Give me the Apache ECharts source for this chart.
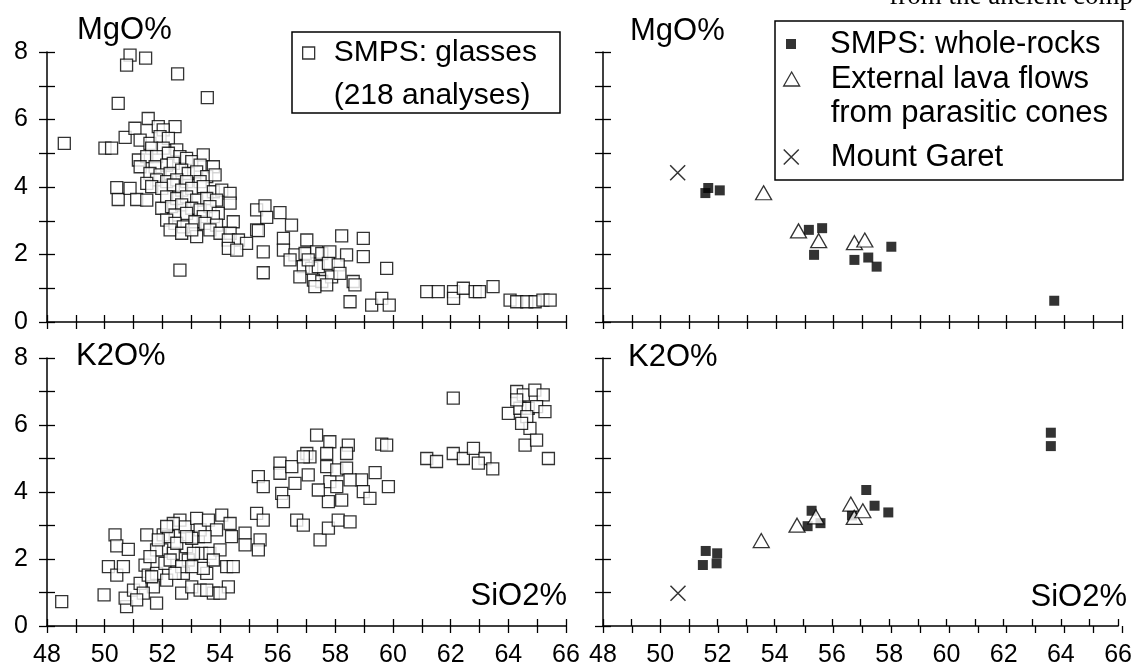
<!DOCTYPE html>
<html>
<head>
<meta charset="utf-8">
<script src="https://cdn.jsdelivr.net/npm/echarts@6/dist/echarts.min.js"></script>
<style>
html,body{margin:0;padding:0;background:#fff;}
#c{width:1135px;height:670px;}
</style>
</head>
<body>
<div id="c"></div>
<script>
// ---------- data ----------
const xTickLabels = ['48','50','52','54','56','58','60','62','64','66'];
const yTickLabels = ['0','2','4','6','8'];
const xMin = 48, xMax = 66, yMin = 0, yMax = 8;

// SMPS glasses, MgO% vs SiO2%
const glassMgO = [
 [48.60,5.29],[50.88,7.91],[50.76,7.61],[51.42,7.82],[52.53,7.35],[53.56,6.65],[50.47,6.48],
 [50.01,5.15],[50.24,5.15],[50.71,5.47],[51.05,5.74],[51.51,6.03],[52.44,5.79],
 [50.42,3.98],[50.47,3.63],[50.88,3.96],[51.11,3.63],[51.46,3.61],[52.61,1.54],[53.19,2.53],
 [51.86,5.79],[52.03,5.69],
 [51.23,5.39],[51.57,5.29],[51.92,5.49],[52.21,5.44],[51.63,5.15],[52.03,5.15],[52.50,5.10],
 [51.17,4.80],[51.46,4.90],[51.80,4.90],[52.21,5.00],[52.61,4.90],[52.84,4.85],[53.02,4.75],[53.42,4.95],
 [51.23,4.60],[51.75,4.60],[52.15,4.65],[52.38,4.70],[53.31,4.65],[53.77,4.60],
 [51.57,4.40],[51.92,4.36],[52.27,4.40],[52.67,4.50],[52.90,4.40],[53.19,4.45],[53.54,4.31],[53.83,4.36],
 [51.80,4.21],[52.15,4.16],[52.50,4.21],[52.84,4.16],[53.31,4.16],[51.46,4.11],
 [51.63,4.01],[51.98,3.96],[52.38,4.06],[52.67,3.91],[53.02,3.96],[53.42,4.01],[53.77,3.86],[54.06,3.91],[54.35,3.81],
 [52.15,3.71],[52.50,3.66],[52.84,3.71],[53.19,3.61],[53.54,3.66],[53.88,3.61],[54.35,3.52],
 [51.98,3.37],[52.32,3.42],[52.67,3.47],[53.02,3.37],[53.31,3.32],[53.65,3.42],[53.94,3.22],
 [52.44,3.17],[52.84,3.22],[53.42,3.12],[53.77,3.12],
 [52.15,3.02],[52.44,2.92],[52.73,2.82],[53.13,2.97],[53.48,2.92],[53.88,2.87],[54.46,2.97],
 [52.27,2.73],[52.67,2.63],[53.02,2.73],[53.65,2.73],[54.00,2.63],[54.35,2.63],
 [54.29,2.43],[54.64,2.43],[54.92,2.33],[55.27,2.73],[54.29,2.18],[54.58,2.13],
 [55.27,3.32],[55.56,3.44],[55.62,3.10],[56.08,3.24],[56.48,2.87],[55.33,2.71],[56.20,2.48],
 [55.50,2.08],[55.50,1.46],[56.20,2.13],[56.60,1.99],[57.01,2.43],[56.95,2.03],[57.35,2.08],
 [57.53,2.03],[57.81,2.08],[58.22,2.55],[58.39,1.99],[58.97,2.48],[58.97,1.94],[56.89,1.64],
 [57.18,1.59],[57.41,1.64],[57.76,1.74],[58.10,1.69],[56.77,1.34],[57.24,1.24],[57.53,1.20],
 [57.87,1.34],[58.16,1.44],[58.62,1.20],[58.68,1.10],[57.70,1.10],[57.29,1.05],[59.78,1.59],
 [58.51,0.60],[59.26,0.50],[59.61,0.70],[59.87,0.50],[56.43,1.84],[57.06,1.84],
 [61.17,0.90],[61.57,0.90],[62.10,0.90],[62.10,0.70],[62.44,1.00],[62.85,0.90],[63.00,0.90],[63.47,1.05],
 [64.06,0.65],[64.29,0.60],[64.64,0.60],[64.93,0.60],[65.20,0.65],[65.45,0.65]
];

// SMPS glasses, K2O% vs SiO2%
const glassK2O = [
 [48.51,0.73],[49.98,0.93],[50.36,2.72],[50.42,2.39],[50.82,2.29],[50.13,1.77],[50.42,1.52],[50.65,1.77],
 [50.76,0.58],[50.71,0.83],[51.00,1.07],[51.23,1.27],[51.46,2.72],[51.40,1.82],[51.51,1.52],[51.69,1.17],
 [51.80,0.68],[51.80,1.57],[52.03,2.72],[51.98,2.27],[52.09,1.87],[52.15,1.37],[52.21,2.67],[52.38,2.17],
 [52.61,3.16],[52.67,0.98],[52.79,2.96],[52.84,2.37],[52.90,1.97],[52.73,1.57],[53.02,1.17],[53.19,3.21],
 [53.25,2.67],[53.31,2.87],[53.36,2.17],[53.31,1.07],[53.60,3.16],[53.54,1.57],[53.65,2.17],[53.77,0.98],
 [53.88,2.87],[54.06,3.31],[54.00,2.27],[54.23,1.77],[54.29,1.17],[54.35,3.06],[54.40,2.67],[54.87,2.77],[54.87,2.42],
 [51.80,2.27],[51.86,2.57],[52.27,1.97],[52.50,2.47],[53.02,2.62],[53.08,2.17],[52.67,1.77],[53.42,1.72],
 [53.77,1.97],[53.02,1.77],[52.38,3.06],[52.84,2.67],[53.48,2.67],[52.15,2.97],[51.63,1.47],[51.34,0.98],
 [51.11,0.78],[51.57,2.07],[52.44,1.57],[54.46,1.77],[54.00,0.98],[53.54,1.07],
 [55.33,4.46],[55.50,4.16],[55.27,3.36],[55.50,3.16],[55.39,2.57],[55.33,2.27],[56.08,4.86],[56.08,4.56],
 [56.14,3.96],[56.20,3.71],[56.49,4.76],[56.60,4.26],[56.66,3.16],[56.89,3.01],[57.35,5.70],[57.01,5.15],
 [57.12,5.05],[57.81,5.50],[57.70,5.15],[57.70,4.76],[57.81,4.31],[57.76,3.71],[57.41,4.06],[57.47,2.57],
 [57.76,2.92],[56.89,5.05],[57.06,4.51],[58.10,3.16],[58.51,3.11],[58.45,5.40],[58.39,5.15],[58.05,4.66],
 [58.39,4.71],[58.91,4.36],[58.97,4.01],[59.20,3.81],[59.38,4.58],[59.84,4.16],[59.61,5.43],[59.78,5.40],
 [58.51,4.36],[58.05,4.16],[58.22,3.76],
 [62.09,6.80],[61.17,5.00],[61.51,4.91],[62.09,5.15],[62.44,5.00],[62.79,5.30],[63.19,5.00],[62.96,4.86],[63.46,4.69],
 [64.29,7.00],[64.52,6.90],[64.92,7.04],[65.21,6.90],[64.00,6.35],[64.40,6.50],[64.69,6.50],[64.98,6.55],
 [65.27,6.40],[64.64,6.25],[64.75,5.90],[64.58,5.40],[64.98,5.55],[65.39,5.00],[64.29,6.75],[64.46,6.05]
];

// SMPS whole-rocks
const wrMgO = [[51.55,3.82],[51.65,3.97],[52.05,3.90],[55.14,2.73],[55.60,2.78],[55.32,1.99],[58.00,2.23],[56.72,1.84],[57.20,1.91],[57.49,1.64],[63.65,0.63]];
const wrK2O = [[51.59,2.24],[51.49,1.82],[51.99,2.17],[51.97,1.87],[55.15,2.98],[55.29,3.44],[55.60,3.07],[56.70,3.30],[57.20,4.06],[57.49,3.59],[57.97,3.39],[63.65,5.77],[63.65,5.37]];
// External lava flows from parasitic cones
const lavaMgO = [[53.57,3.83],[54.78,2.70],[55.48,2.41],[56.72,2.35],[57.08,2.43]];
const lavaK2O = [[53.53,2.55],[54.78,3.01],[55.44,3.26],[56.66,3.64],[56.78,3.24],[57.08,3.44]];
// Mount Garet
const garetMgO = [[50.59,4.42]];
const garetK2O = [[50.62,0.98]];

// ---------- chart ----------
const FF = '"Liberation Sans", Arial, Helvetica, sans-serif';
const chart = echarts.init(document.getElementById('c'), null, {renderer:'canvas'});

const gridRects = [
  {left:47, top:52, width:519, height:270},
  {left:603, top:52, width:519, height:270},
  {left:47, top:358, width:519, height:268},
  {left:603, top:358, width:519, height:268}
];
const allGrids = gridRects.concat(gridRects.map(g => Object.assign({}, g)));

const xAxes = allGrids.map((g, i) => ({
  gridIndex: i, type: 'value', min: xMin, max: xMax, interval: 1,
  axisLine: {show: i < 4, onZero: false, lineStyle: {color: '#000', width: 1.5}},
  axisTick: {show: true, inside: i < 4, length: 7, lineStyle: {color: '#000', width: 1.3}},
  axisLabel: {show: i === 2 || i === 3, margin: 17, color: '#000', fontSize: 25, fontFamily: FF,
    formatter: v => xTickLabels.indexOf(String(v)) >= 0 ? String(v) : ''},
  splitLine: {show: false}
}));
const yAxes = allGrids.map((g, i) => ({
  gridIndex: i, type: 'value', min: yMin, max: yMax, interval: 1,
  axisLine: {show: i < 4, onZero: false, lineStyle: {color: '#000', width: 1.5}},
  axisTick: {show: true, inside: i < 4, length: 8, lineStyle: {color: '#000', width: 1.3}},
  axisLabel: {show: i === 0 || i === 2, margin: 19, color: '#000', fontSize: 25, fontFamily: FF,
    formatter: v => yTickLabels.indexOf(String(v)) >= 0 ? String(v) : ''},
  splitLine: {show: false}
}));

const openSq = {color: '#fff', borderColor: '#000', borderWidth: 1.3};
const fillSq = {color: '#000', borderColor: '#000', borderWidth: 0};
const triStyle = {color: '#fff', borderColor: '#000', borderWidth: 1.3};
const xStyle = {color: 'rgba(0,0,0,0)', borderColor: '#000', borderWidth: 1.5};
const XPATH = 'path://M0,0L16,16M16,0L0,16';

function sc(name, data, xi, symbol, size, style) {
  return {type: 'scatter', name, data, xAxisIndex: xi, yAxisIndex: xi, symbol, symbolSize: size,
    itemStyle: style, emphasis: {disabled: true}, silent: true, animation: false};
}

const series = [
  sc('SMPS: glasses', glassMgO, 0, 'rect', 12, openSq),
  sc('SMPS: glasses', glassK2O, 2, 'rect', 12, openSq),
  sc('SMPS: whole-rocks', wrMgO, 1, 'rect', 10, fillSq),
  sc('SMPS: whole-rocks', wrK2O, 3, 'rect', 10, fillSq),
  sc('External lava flows from parasitic cones', lavaMgO, 1, 'triangle', [16, 14], triStyle),
  sc('External lava flows from parasitic cones', lavaK2O, 3, 'triangle', [16, 14], triStyle),
  sc('Mount Garet', garetMgO, 1, XPATH, 15, xStyle),
  sc('Mount Garet', garetK2O, 3, XPATH, 15, xStyle)
];

// a leading empty line keeps the icon level with the first text line of two-line entries
const legTxt = (fs, lh, pl) => ({fontSize: fs, fontFamily: FF, color: '#000', lineHeight: lh, padding: [0, 0, 0, pl]});
const legends = [
  {data: ['SMPS: glasses'], left: 302, top: 53 - 64.5, padding: 0, itemWidth: 12, itemHeight: 12,
   selectedMode: false, itemStyle: openSq, formatter: () => '\nSMPS: glasses\n(218 analyses)',
   textStyle: legTxt(30, 43, 14)},
  {data: ['SMPS: whole-rocks'], left: 786, top: 44 - 17, padding: 0, itemWidth: 10, itemHeight: 10,
   selectedMode: false, itemStyle: fillSq, textStyle: legTxt(31, 34, 29)},
  {data: ['External lava flows from parasitic cones'], left: 783, top: 79 - 51, padding: 0, itemWidth: 16, itemHeight: 14,
   selectedMode: false, itemStyle: triStyle, formatter: () => '\nExternal lava flows\nfrom parasitic cones',
   textStyle: legTxt(31, 34, 26)},
  {data: ['Mount Garet'], left: 783, top: 157 - 17, padding: 0, itemWidth: 15, itemHeight: 15,
   selectedMode: false, itemStyle: xStyle, textStyle: legTxt(31, 34, 27)}
];

function label(text, x, y, align) {
  return {type: 'text', x, y, silent: true, z: 10,
    style: {text, fill: '#000', fontSize: 31, fontFamily: FF, align: align || 'left', verticalAlign: 'middle'}};
}

const graphic = [
  {type: 'rect', shape: {x: 292, y: 32, width: 268, height: 81}, style: {fill: 'none', stroke: '#000', lineWidth: 1.5}, silent: true},
  {type: 'rect', shape: {x: 775, y: 21, width: 348, height: 159}, style: {fill: 'none', stroke: '#000', lineWidth: 1.5}, silent: true},
  label('MgO%', 77, 30),
  label('MgO%', 630, 31),
  label('K2O%', 76, 356),
  label('K2O%', 628, 357),
  label('SiO2%', 567, 596, 'right'),
  label('SiO2%', 1127, 597, 'right'),
  {type: 'text', x: 1133, y: -3, silent: true,
   style: {text: 'from the ancient comp', fill: '#000', fontSize: 27, fontFamily: '"Liberation Serif", "DejaVu Serif", serif', align: 'right', verticalAlign: 'middle'}}
];

chart.setOption({
  animation: false,
  backgroundColor: '#fff',
  grid: allGrids,
  xAxis: xAxes,
  yAxis: yAxes,
  legend: legends,
  series,
  graphic
});
</script>
</body>
</html>
